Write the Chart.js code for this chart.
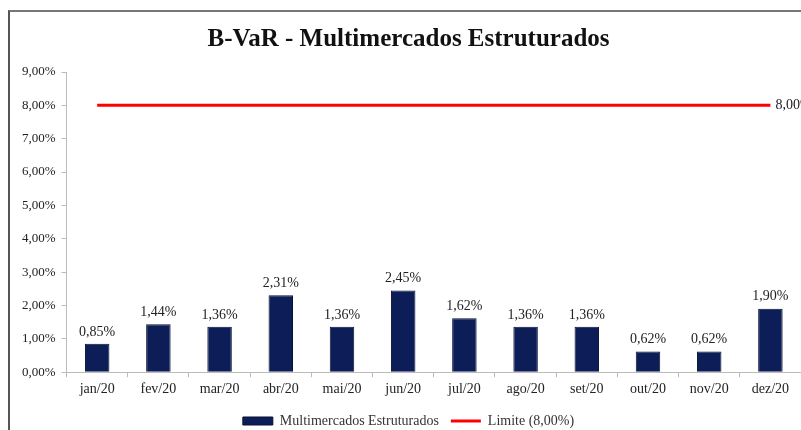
<!DOCTYPE html>
<html>
<head>
<meta charset="utf-8">
<script src="https://cdn.jsdelivr.net/npm/chart.js@4/dist/chart.umd.min.js"></script>
<style>
  body { margin: 0; background: #fff; }
  #wrap { position: relative; width: 801px; height: 430px; }
  #frame { position: absolute; left: 8px; top: 10px; width: 800px; height: 430px;
           border-left: 2px solid #555; border-top: 2px solid #777; }
  canvas { position: absolute; left: 0; top: 0; }
</style>
</head>
<body>
<div id="wrap">
  <div id="frame"></div>
  <canvas id="grafico" width="801" height="430"></canvas>
</div>
<script>
// Dados
var meses = ['jan/20', 'fev/20', 'mar/20', 'abr/20', 'mai/20', 'jun/20', 'jul/20', 'ago/20', 'set/20', 'out/20', 'nov/20', 'dez/20'];
var bvar = [0.85, 1.44, 1.36, 2.31, 1.36, 2.45, 1.62, 1.36, 1.36, 0.62, 0.62, 1.90];
var limite = [8, 8, 8, 8, 8, 8, 8, 8, 8, 8, 8, 8];
var yTicks = [0, 1, 2, 3, 4, 5, 6, 7, 8, 9];

function pct(v) {
    return v.toFixed(2).replace('.', ',') + '%';
}

// Rotulos dos valores
var rotulos = {
    id: 'rotulos',
    afterDatasetsDraw: function(chart) {
        var ctx = chart.ctx;
        ctx.save();
        ctx.font = '14px "Liberation Serif"';
        ctx.fillStyle = '#222';
        ctx.textBaseline = 'bottom';
        var barras = chart.getDatasetMeta(0).data;
        ctx.textAlign = 'center';
        barras.forEach(function(el, i) {
            ctx.fillText(pct(bvar[i]), el.x, el.y - 5);
        });
        var pts = chart.getDatasetMeta(1).data;
        var ultimo = pts[pts.length - 1];
        ctx.textAlign = 'left';
        ctx.textBaseline = 'middle';
        ctx.fillText(pct(limite[limite.length - 1]), ultimo.x + 5, ultimo.y);
        ctx.restore();
    }
};

var ctx = document.getElementById('grafico').getContext('2d');
var chart = new Chart(ctx, {
    type: 'bar',
    data: {
        labels: meses,
        datasets: [{
            label: 'Multimercados Estruturados',
            data: bvar,
            backgroundColor: '#0c1d58',
            borderColor: '#071236',
            borderWidth: 1,
            barPercentage: 0.4,
            categoryPercentage: 1.0,
            pointStyle: 'rect'
        }, {
            type: 'line',
            label: 'Limite (8,00%)',
            data: limite,
            borderColor: '#ff0000',
            backgroundColor: '#ff0000',
            borderWidth: 3,
            pointRadius: 0,
            fill: false,
            pointStyle: 'line'
        }]
    },
    options: {
        responsive: false,
        animation: false,
        layout: { padding: { left: 16, right: 0, top: 0, bottom: -8 } },
        plugins: {
            title: {
                display: true,
                text: 'B-VaR - Multimercados Estruturados',
                color: '#111',
                font: { family: '"Liberation Serif"', size: 25, weight: 'bold' },
                padding: { top: 25, bottom: 17 }
            },
            legend: {
                position: 'bottom',
                labels: {
                    usePointStyle: true,
                    pointStyleWidth: 30,
                    boxHeight: 8,
                    color: '#333',
                    padding: 12,
                    font: { family: '"Liberation Serif"', size: 14 }
                }
            },
            tooltip: { enabled: false }
        },
        scales: {
            x: {
                grid: { drawOnChartArea: false, tickLength: 5, color: '#bbb' },
                border: { color: '#bbb' },
                ticks: { color: '#222', font: { family: '"Liberation Serif"', size: 14 }, padding: 4 }
            },
            y: {
                min: yTicks[0],
                max: yTicks[yTicks.length - 1],
                afterBuildTicks: function(axis) {
                    axis.ticks = yTicks.map(function(v) { return { value: v }; });
                },
                grid: { drawOnChartArea: false, tickLength: 5, color: '#bbb' },
                border: { color: '#bbb' },
                ticks: {
                    color: '#222',
                    font: { family: '"Liberation Serif"', size: 13 },
                    padding: 6,
                    callback: function(v) { return pct(v); }
                }
            }
        }
    },
    plugins: [rotulos]
});
</script>
</body>
</html>
